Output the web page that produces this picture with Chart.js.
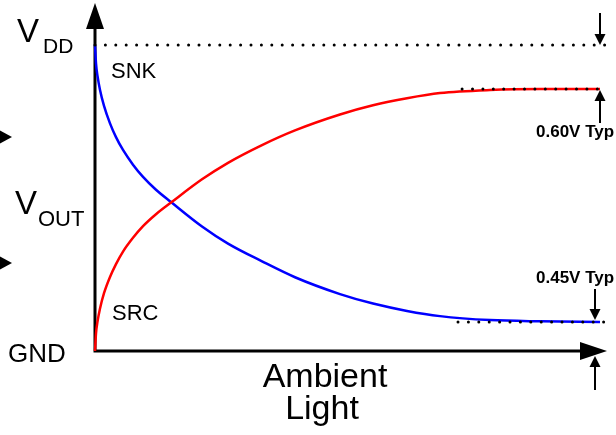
<!DOCTYPE html>
<html>
<head>
<meta charset="utf-8">
<script src="https://cdn.jsdelivr.net/npm/chart.js@4.4.1/dist/chart.umd.min.js"></script>
<style>
  html, body { margin: 0; padding: 0; background: #fff; }
  #wrap { width: 616px; height: 435px; }
</style>
</head>
<body>
<div id="wrap"><canvas id="chart" width="616" height="435"></canvas></div>
<script>
// ambient light (arbitrary 0..100) and output as a fraction of VDD
const lightLevels = [0, 0.2, 0.49, 0.98, 1.76, 2.93, 4.1, 5.47, 7.42, 9.38, 11.91, 14.84, 20.9, 25.98, 32.62, 39.06, 47.85, 54.3, 60.94, 67.38, 77.15, 86.91, 98.63];
const srcCurve = [0, 0.058, 0.096, 0.139, 0.189, 0.242, 0.284, 0.325, 0.370, 0.408, 0.447, 0.485, 0.561, 0.615, 0.673, 0.721, 0.773, 0.803, 0.826, 0.843, 0.853, 0.856, 0.856];
const snkCurve = [1.0, 0.939, 0.899, 0.853, 0.801, 0.744, 0.699, 0.657, 0.609, 0.569, 0.527, 0.487, 0.407, 0.351, 0.293, 0.241, 0.186, 0.155, 0.131, 0.114, 0.101, 0.097, 0.095];

const vddLevel = 1;
const srcTyp = 0.856;   // VDD - 0.60V
const snkTyp = 0.095;   // GND + 0.45V
const vddDots = [0, 99.6];
const srcDots = [71.7, 100];
const snkDots = [70.9, 99.4];

const FONT = '"Liberation Sans", Arial, Helvetica, sans-serif';

function pts(xs, ys) {
    return xs.map((x, i) => ({ x: x, y: Array.isArray(ys) ? ys[i] : ys }));
}

function dotted(xs, level) {
    return {
        data: pts(xs, level),
        borderColor: '#000',
        borderWidth: 3,
        borderDash: [0, 10.4],
        borderCapStyle: 'round',
        pointRadius: 0,
        clip: false,
        order: 0
    };
}

function arrowHead(ctx, tipX, tipY, dir, len, half) {
    ctx.beginPath();
    if (dir === 'up') {
        ctx.moveTo(tipX, tipY); ctx.lineTo(tipX - half, tipY + len); ctx.lineTo(tipX + half, tipY + len);
    } else if (dir === 'down') {
        ctx.moveTo(tipX, tipY); ctx.lineTo(tipX - half, tipY - len); ctx.lineTo(tipX + half, tipY - len);
    } else {
        ctx.moveTo(tipX, tipY); ctx.lineTo(tipX - len, tipY - half); ctx.lineTo(tipX - len, tipY + half);
    }
    ctx.closePath();
    ctx.fill();
}

function smallArrow(ctx, x, tipY, dir, shaft) {
    const sign = dir === 'down' ? -1 : 1;
    ctx.beginPath();
    ctx.moveTo(x, tipY + sign * 8);
    ctx.lineTo(x, tipY + sign * shaft);
    ctx.stroke();
    arrowHead(ctx, x, tipY, dir, 11, 5.5);
}

function text(ctx, str, x, y, size, opts) {
    opts = opts || {};
    ctx.font = (opts.bold ? 'bold ' : '') + size + 'px ' + FONT;
    ctx.textAlign = opts.align || 'left';
    ctx.textBaseline = 'alphabetic';
    ctx.fillText(str, x, y);
}

const diagramAxes = {
    id: 'diagramAxes',
    beforeDatasetsDraw(chart) {
        const ctx = chart.ctx;
        const a = chart.chartArea;
        const y = chart.scales.y;
        const x0 = chart.scales.x.getPixelForValue(0);
        const y0 = y.getPixelForValue(0);
        ctx.save();
        ctx.strokeStyle = '#000';
        ctx.fillStyle = '#000';
        ctx.lineWidth = 3;
        ctx.beginPath();
        ctx.moveTo(x0, y0 + 1.5);
        ctx.lineTo(x0, a.top + 20);
        ctx.moveTo(x0 - 1.5, y0);
        ctx.lineTo(a.right - 20, y0);
        ctx.stroke();
        arrowHead(ctx, x0, a.top, 'up', 26, 9);
        arrowHead(ctx, a.right, y0, 'right', 27, 9);
        ctx.restore();
    },
    afterDraw(chart) {
        const ctx = chart.ctx;
        const y = chart.scales.y;
        const yVdd = y.getPixelForValue(vddLevel);
        const ySrc = y.getPixelForValue(srcTyp);
        const ySnk = y.getPixelForValue(snkTyp);
        const yGnd = y.getPixelForValue(0);
        ctx.save();
        ctx.fillStyle = '#000';
        ctx.strokeStyle = '#000';
        ctx.lineWidth = 2;

        // 0.60V gap markers
        smallArrow(ctx, 600, yVdd, 'down', 32);
        smallArrow(ctx, 600, ySrc + 1, 'up', 33);
        // 0.45V gap markers
        smallArrow(ctx, 595, ySnk - 2, 'down', 31);
        smallArrow(ctx, 595, yGnd + 5, 'up', 34);

        // left-edge pointers
        arrowHead(ctx, 12, 137, 'right', 12, 6.5);
        arrowHead(ctx, 12, 263, 'right', 12, 6.5);

        text(ctx, 'V', 17, 42, 33);
        text(ctx, 'DD', 43, 53, 21);
        text(ctx, 'V', 15, 214, 33);
        text(ctx, 'OUT', 38, 226, 22);
        text(ctx, 'GND', 8, 362, 26);
        text(ctx, 'SNK', 111, 78, 22);
        text(ctx, 'SRC', 112, 320, 22);
        text(ctx, 'Ambient', 325, 387, 34, { align: 'center' });
        text(ctx, 'Light', 322, 419, 34, { align: 'center' });
        text(ctx, '0.60V Typ', 536, 137, 17, { bold: true });
        text(ctx, '0.45V Typ', 536, 283, 17, { bold: true });
        ctx.restore();
    }
};

new Chart(document.getElementById('chart'), {
    type: 'line',
    data: {
        datasets: [
            {
                data: pts(lightLevels, srcCurve),
                borderColor: '#ff0000',
                borderWidth: 2.5,
                pointRadius: 0,
                cubicInterpolationMode: 'monotone',
                clip: false,
                order: 1
            },
            {
                data: pts(lightLevels, snkCurve),
                borderColor: '#0000ff',
                borderWidth: 2.5,
                pointRadius: 0,
                cubicInterpolationMode: 'monotone',
                clip: false,
                order: 1
            },
            dotted(vddDots, vddLevel),
            dotted(srcDots, srcTyp),
            dotted(snkDots, snkTyp)
        ]
    },
    options: {
        responsive: false,
        animation: false,
        layout: { padding: { left: 95, right: 9, top: 3, bottom: 84 } },
        scales: {
            x: { type: 'linear', min: 0, max: 100, display: false },
            y: { type: 'linear', min: 0, max: 1.1373, display: false }
        },
        plugins: {
            legend: { display: false },
            tooltip: { enabled: false }
        }
    },
    plugins: [diagramAxes]
});
</script>
</body>
</html>
